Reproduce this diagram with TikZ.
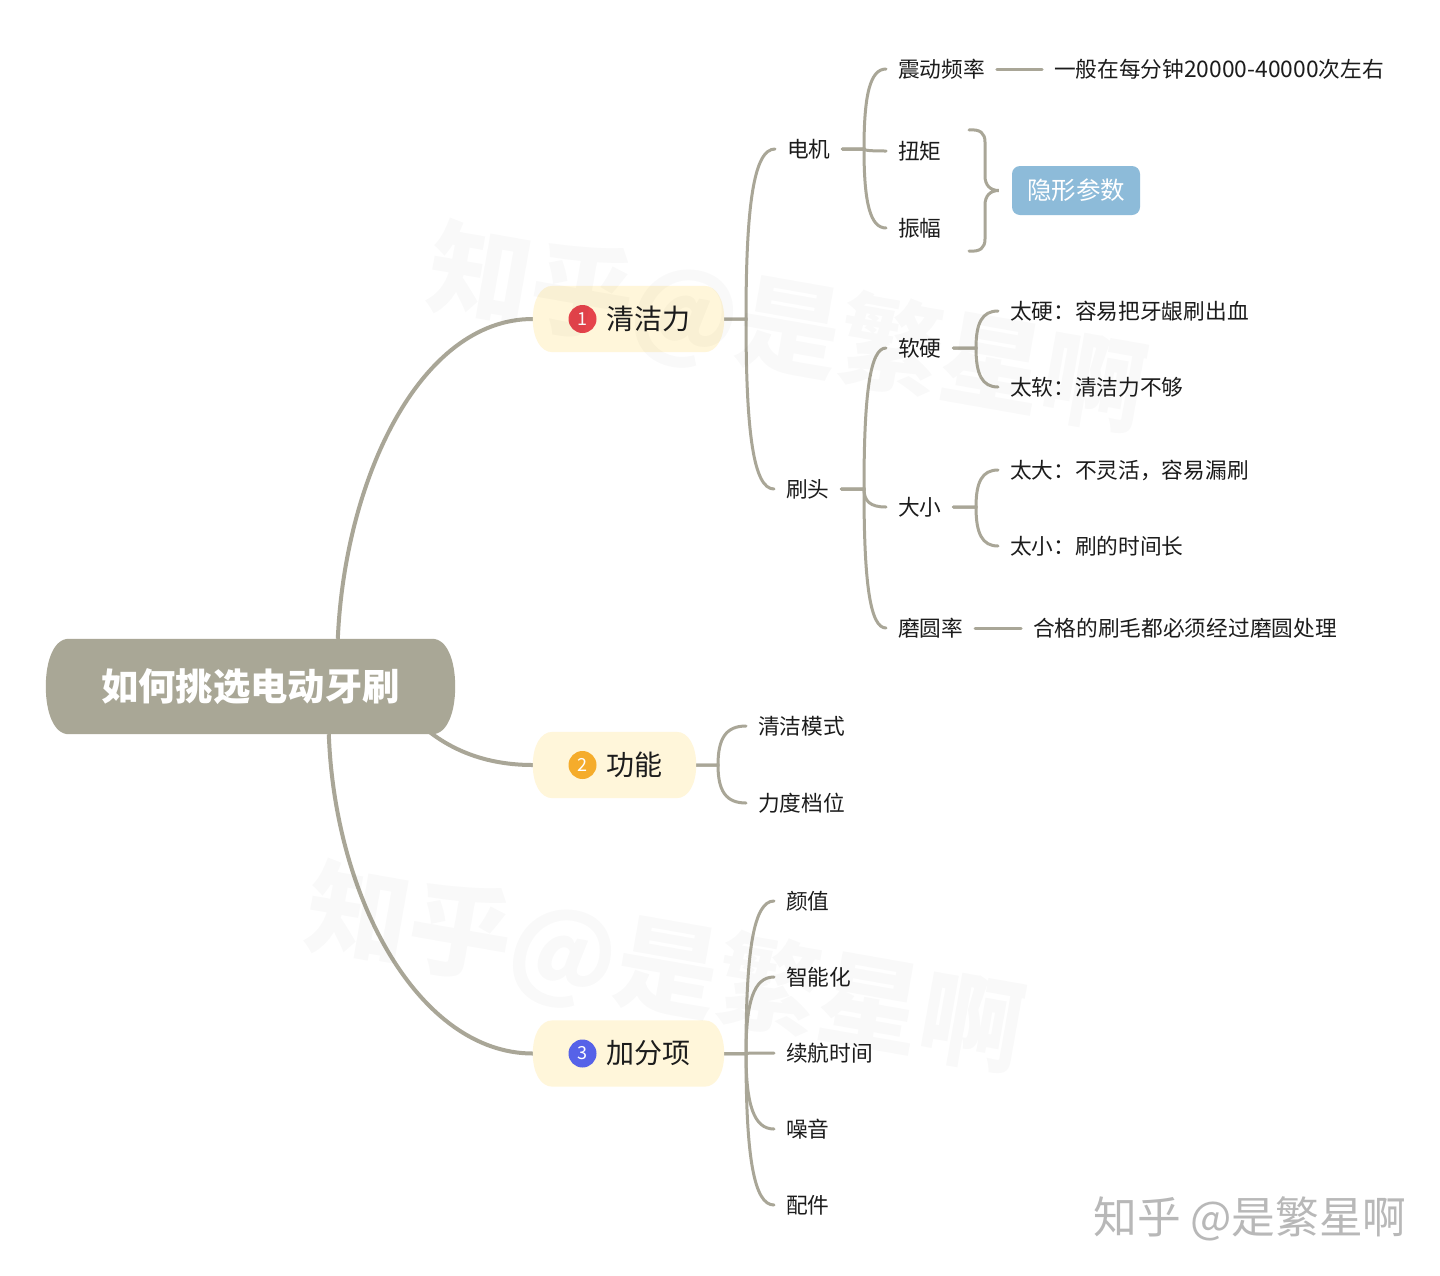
\documentclass[tikz,border=0pt]{standalone}
\usepackage{fontspec}
\setmainfont{Noto Sans CJK SC}
\usetikzlibrary{calc,backgrounds}
\definecolor{linec}{HTML}{A9A697}
\definecolor{rootc}{HTML}{A9A796}
\definecolor{pillc}{HTML}{FFF6DA}
\definecolor{tagc}{HTML}{8DBBD9}
\definecolor{inkc}{HTML}{1C1C1C}
\newcommand\fs[1]{\fontsize{#1pt}{#1pt}\selectfont}
\tikzset{
  x=1pt,y=-1pt,
  conn/.style={draw=linec,line width=3pt,line cap=round},
  thick conn/.style={draw=linec,line width=4pt},
  leaf/.style={anchor=west,xshift=-12pt,inner sep=0pt,outer xsep=12pt,text height=19pt,text depth=3pt,text=inkc,font=\fs{21.7}},
  lvlone/.style={anchor=west,inner sep=0pt,text height=25pt,text depth=4pt,text=inkc,font=\fs{28}},
  pillbox/.style={inner sep=0pt,minimum height=66pt},
  badge/.style={circle,inner sep=0pt,minimum size=28pt,text=white,font=\fs{18}},
  tagbox/.style={rounded corners=8pt,fill=tagc,text=white,inner sep=0pt,minimum width=128pt,minimum height=49pt,font=\fs{24.5}},
  mark text/.style={text=black,text opacity=0.022,font=\bfseries\fs{103},inner sep=0pt},
}
% #1 parent, #2 child, #3 distance of the spine from the child
\newcommand\branch[3]{%
  \draw[conn] let \p1=(#1.east),\p2=(#2.west) in
    (\p1) -- ({\x2-#3pt},\y1)
    .. controls ({\x2-#3pt},{\y1+0.68*(\y2-\y1)}) and ({\x2-0.72*#3pt},\y2) .. (\p2);}
% #1 node, #2 inset of the flat edge, #3 vertical handle, #4 colour
\newcommand\pillshape[4]{%
  \fill[#4] ($(#1.north west)+(#2,0)$) -- ($(#1.north east)+({-#2},0)$)
    .. controls ($(#1.north east)+({-0.35*#2},0)$) and ($(#1.east)+(0,{-#3})$) .. (#1.east)
    .. controls ($(#1.east)+(0,#3)$) and ($(#1.south east)+({-0.35*#2},0)$) .. ($(#1.south east)+({-#2},0)$)
    -- ($(#1.south west)+(#2,0)$)
    .. controls ($(#1.south west)+({0.35*#2},0)$) and ($(#1.west)+(0,#3)$) .. (#1.west)
    .. controls ($(#1.west)+(0,{-#3})$) and ($(#1.north west)+({0.35*#2},0)$) .. cycle;}
\begin{document}
\begin{tikzpicture}
\useasboundingbox (0,0) rectangle (1440,1275);
% root and first level
\node[inner sep=0pt,minimum width=409pt,minimum height=95pt,text=white,font=\bfseries\fs{37.3}] (root) at (250.5,686.5) {如何挑选电动牙刷};
\node[pillbox,minimum width=191pt] (p1) at (628.5,319) {};
\node[pillbox,minimum width=163pt] (p2) at (614.5,765) {};
\node[pillbox,minimum width=191pt] (p3) at (628.5,1053.5) {};
\node[badge,fill={rgb,255:red,229;green,67;blue,75}] (b1) at (582.5,319) {1};
\node[badge,fill={rgb,255:red,245;green,172;blue,43}] (b2) at (582.5,765) {2};
\node[badge,fill={rgb,255:red,86;green,98;blue,232}] (b3) at (582.5,1053.5) {3};
\node[lvlone] (t1) at (606,319) {清洁力};
\node[lvlone] (t2) at (606,765) {功能};
\node[lvlone] (t3) at (606,1053) {加分项};
% branch 1
\node[leaf] (dj) at (787,149) {电机};
\node[leaf] (st) at (786,489) {刷头};
\node[leaf] (zd) at (898,69) {震动频率};
\node[leaf] (zdt) at (1054,69) {一般在每分钟{\fs{22.8}20000-40000}次左右};
\node[leaf] (nj) at (898,151) {扭矩};
\node[leaf] (zf) at (898,228) {振幅};
\node[tagbox] (yx) at (1076,190.5) {隐形参数};
\node[leaf] (ry) at (898,348) {软硬};
\node[leaf] (ty) at (1010,311) {太硬：容易把牙龈刷出血};
\node[leaf] (tr) at (1010,387) {太软：清洁力不够};
\node[leaf] (dx) at (898,507) {大小};
\node[leaf] (td) at (1010,470) {太大：不灵活，容易漏刷};
\node[leaf] (tx) at (1010,546) {太小：刷的时间长};
\node[leaf] (my) at (898,628) {磨圆率};
\node[leaf] (myt) at (1033,628) {合格的刷毛都必须经过磨圆处理};
% branch 2
\node[leaf] (qj) at (758,726) {清洁模式};
\node[leaf] (ld) at (758,803) {力度档位};
% branch 3
\node[leaf] (yz) at (786,901) {颜值};
\node[leaf] (zn) at (786,977) {智能化};
\node[leaf] (xh) at (786,1053) {续航时间};
\node[leaf] (zy) at (786,1129) {噪音};
\node[leaf] (pj) at (786,1205) {配件};
\coordinate (brtop) at (969,130);
\coordinate (brbot) at (969,251);
\begin{scope}[on background layer]
  \fill[white] (0,0) rectangle (1440,1275);
  \draw[thick conn] ($(root.north west)+(292,0)$) .. controls +(7,-160) and (420,319) .. (p1.west);
  \draw[thick conn] ($(root.south west)+(384,-2)$) .. controls +(30,23) and (495,765) .. (p2.west);
  \draw[thick conn] ($(root.south west)+(283,0)$) .. controls +(6,166) and (420,1053.5) .. (p3.west);
  \branch{p1}{dj}{29}\branch{p1}{st}{28}
  \branch{dj}{zd}{22}\branch{dj}{nj}{22}\branch{dj}{zf}{22}
  \branch{st}{ry}{22}\branch{st}{dx}{22}\branch{st}{my}{22}
  \branch{ry}{ty}{22}\branch{ry}{tr}{22}
  \branch{dx}{td}{22}\branch{dx}{tx}{22}
  \draw[conn] (zd) -- (zdt);
  \draw[conn] (my) -- (myt);
  \draw[conn] (brtop) .. controls +(11,-1) and (985,133) .. (985,142) -- (985,176)
     .. controls (985,185) and (990,190.5) .. ($(yx.west)+(-13,0)$)
     .. controls (990,190.5) and (985,196) .. (985,205) -- (985,239)
     .. controls (985,248) and (980,252) .. (brbot);
  \branch{p2}{qj}{28}\branch{p2}{ld}{28}
  \branch{p3}{yz}{28}\branch{p3}{zn}{28}\branch{p3}{xh}{28}\branch{p3}{zy}{28}\branch{p3}{pj}{28}
  \pillshape{root}{23}{26}{rootc}
  \pillshape{p1}{20}{18}{pillc}
  \pillshape{p2}{20}{18}{pillc}
  \pillshape{p3}{20}{18}{pillc}
\end{scope}
% watermarks
\node[mark text,rotate=-10] (w1) at (787,332) {知乎@是繁星啊};
\node[mark text,rotate=-10] (w2) at (665,972) {知乎@是繁星啊};
\node[inner sep=0pt,text=black!28,font=\fs{43.7}] (w3) at (1250,1219) {知乎 @是繁星啊};
\end{tikzpicture}
\end{document}
